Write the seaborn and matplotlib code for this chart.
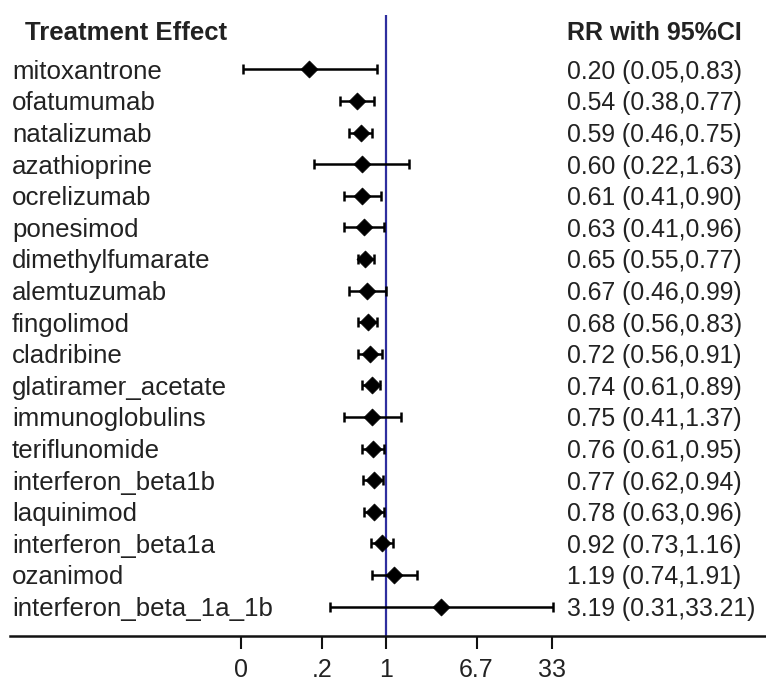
import numpy as np
import pandas as pd
import seaborn as sns
import matplotlib.pyplot as plt
from matplotlib import transforms

treatments = ['mitoxantrone', 'ofatumumab', 'natalizumab', 'azathioprine', 'ocrelizumab',
              'ponesimod', 'dimethylfumarate', 'alemtuzumab', 'fingolimod', 'cladribine',
              'glatiramer_acetate', 'immunoglobulins', 'teriflunomide', 'interferon_beta1b',
              'laquinimod', 'interferon_beta1a', 'ozanimod', 'interferon_beta_1a_1b']
rr = [0.20, 0.54, 0.59, 0.60, 0.61, 0.63, 0.65, 0.67, 0.68, 0.72, 0.74, 0.75, 0.76, 0.77,
      0.78, 0.92, 1.19, 3.19]
lower = [0.05, 0.38, 0.46, 0.22, 0.41, 0.41, 0.55, 0.46, 0.56, 0.56, 0.61, 0.41, 0.61, 0.62,
         0.63, 0.73, 0.74, 0.31]
upper = [0.83, 0.77, 0.75, 1.63, 0.90, 0.96, 0.77, 0.99, 0.83, 0.91, 0.89, 1.37, 0.95, 0.94,
         0.96, 1.16, 1.91, 33.21]
tick_values = [0.048, 0.26, 1, 6.7, 33]
tick_labels = ['0', '.2', '1', '6.7', '33']

df = pd.DataFrame({'treatment': treatments, 'rr': rr, 'lower': lower, 'upper': upper})
df['row'] = np.arange(len(df))

sns.set_style('white')
plt.rcParams['font.family'] = ['Liberation Sans', 'DejaVu Sans']
txt = '#222222'

fig = plt.figure(figsize=(7.66, 6.84), dpi=100)
ax = fig.add_axes([0, 1 - 636 / 684, 1, (636 - 15) / 684])

# error bars then diamonds
ax.errorbar(df['rr'], df['row'], xerr=[df['rr'] - df['lower'], df['upper'] - df['rr']],
            fmt='none', ecolor='black', elinewidth=1.8, capsize=3.5, capthick=1.8, zorder=2)
sns.scatterplot(data=df, x='rr', y='row', marker='D', s=75, color='black',
                edgecolor='black', linewidth=0.5, ax=ax, zorder=3, legend=False)

ax.set_xscale('log')
k = 47.6  # px per ln unit
ax.set_xlim(np.exp(-386 / k), np.exp((766 - 386) / k))
ax.set_ylim((636 - 69.3) / 31.6, (15 - 69.3) / 31.6)

ax.axvline(1, color='#2e2e9e', lw=1.6, zorder=1)

for s in ['top', 'left', 'right']:
    ax.spines[s].set_visible(False)
ax.spines['bottom'].set_linewidth(1.8)
ax.spines['bottom'].set_color('#111111')
ax.spines['bottom'].set_bounds(np.exp((10 - 386) / k), np.exp((766 - 386) / k))

ax.set_xticks(tick_values)
ax.set_xticklabels(tick_labels)
ax.xaxis.set_minor_locator(plt.NullLocator())
ax.tick_params(axis='x', bottom=True, direction='out', length=9, width=1.5, pad=7,
               labelsize=18, labelcolor=txt, color='#111111')
ax.set_yticks([])
ax.set_xlabel('')
ax.set_ylabel('')

trans = transforms.blended_transform_factory(fig.transFigure, ax.transData)
for i, r in df.iterrows():
    ax.text(12 / 766, r['row'] + 0.08, r['treatment'], transform=trans, ha='left',
            va='center', fontsize=18.6, color=txt)
    ax.text(567 / 766, r['row'] + 0.08, f"{r['rr']:.2f} ({r['lower']:.2f},{r['upper']:.2f})",
            transform=trans, ha='left', va='center', fontsize=17.8, color=txt)

ax.text(25 / 766, -1.15, 'Treatment Effect', transform=trans, ha='left', va='center',
        fontsize=18.5, fontweight='bold', color=txt)
ax.text(567 / 766, -1.15, 'RR with 95%CI', transform=trans, ha='left', va='center',
        fontsize=18, fontweight='bold', color=txt)

fig.savefig('out.png', dpi=100)
